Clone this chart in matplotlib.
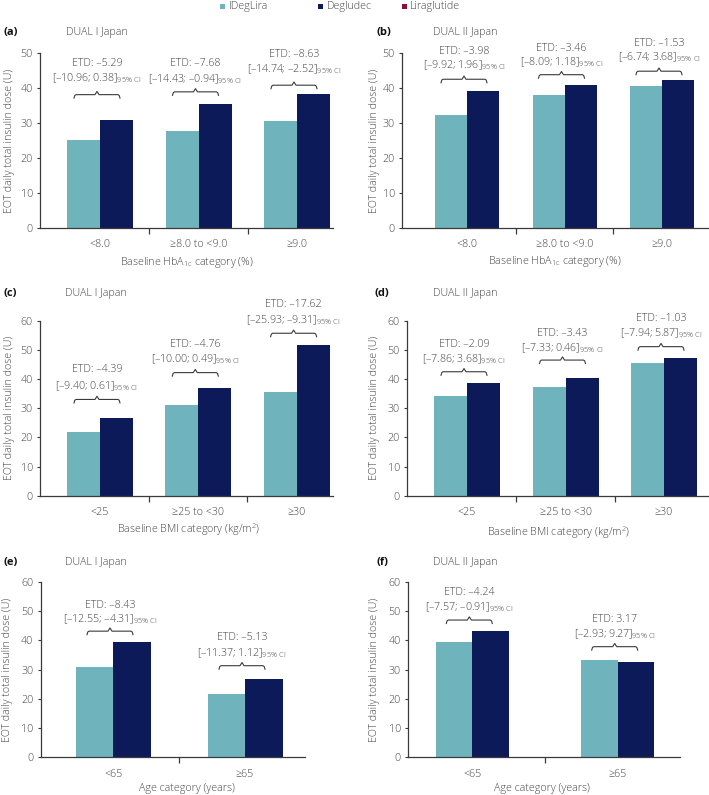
import matplotlib
matplotlib.use('Agg')
import matplotlib.pyplot as plt
from matplotlib.patches import Rectangle
import numpy as np

plt.rcParams['font.family'] = ['Open Sans', 'DejaVu Sans']
plt.rcParams['font.weight'] = 'light'
plt.rcParams['mathtext.fontset'] = 'custom'
plt.rcParams['mathtext.rm'] = 'Open Sans:light'
plt.rcParams['mathtext.it'] = 'Open Sans:italic'
plt.rcParams['mathtext.bf'] = 'Open Sans:bold'

# ---------------- data ----------------
series = ['IDegLira', 'Degludec', 'Liraglutide']

cats_hba1c = ['<8.0', '≥8.0 to <9.0', '≥9.0']
cats_bmi = ['<25', '≥25 to <30', '≥30']
cats_age = ['<65', '≥65']

a_ideg = [25.2, 27.7, 30.6]
a_deg = [30.9, 35.3, 38.4]
a_etd = ['–5.29', '–7.68', '–8.63']
a_ci = ['[–10.96; 0.38]', '[–14.43; –0.94]', '[–14.74; –2.52]']

b_ideg = [32.3, 38.0, 40.7]
b_deg = [39.2, 41.0, 42.3]
b_etd = ['–3.98', '–3.46', '–1.53']
b_ci = ['[–9.92; 1.96]', '[–8.09; 1.18]', '[–6.74; 3.68]']

c_ideg = [21.9, 31.1, 35.7]
c_deg = [26.5, 36.8, 51.6]
c_etd = ['–4.39', '–4.76', '–17.62']
c_ci = ['[–9.40; 0.61]', '[–10.00; 0.49]', '[–25.93; –9.31]']

d_ideg = [34.2, 37.2, 45.4]
d_deg = [38.7, 40.2, 47.1]
d_etd = ['–2.09', '–3.43', '–1.03']
d_ci = ['[–7.86; 3.68]', '[–7.33; 0.46]', '[–7.94; 5.87]']

e_ideg = [30.8, 21.6]
e_deg = [39.3, 26.8]
e_etd = ['–8.43', '–5.13']
e_ci = ['[–12.55; –4.31]', '[–11.37; 1.12]']

f_ideg = [39.3, 33.2]
f_deg = [43.2, 32.5]
f_etd = ['–4.24', '3.17']
f_ci = ['[–7.57; –0.91]', '[–2.93; 9.27]']

# ---------------- style ----------------
W, H = 709, 795
TXT = '#444444'
AXC = '#3a3a3a'
C_IDEG = '#6fb4bc'
C_DEG = '#0d1a5a'
C_LIRA = '#8b1040'
FS = 7.7

fig = plt.figure(figsize=(W / 100, H / 100), dpi=100)


def fx(px):
    return px / W


def fy(py):
    return 1 - py / H


xl_hba1c = 'Baseline HbA$_{\\mathrm{1c}}$ category (%)'
xl_bmi = 'Baseline BMI category (kg/m$^{\\mathrm{2}}$)'
xl_age = 'Age category (years)'

panels = [
    dict(letter='(a)', study='DUAL I Japan', rect=(40, 333, 53, 228), c0=100, sp=98.5,
         ymax=50, cats=cats_hba1c, ideg=a_ideg, deg=a_deg, etd=a_etd, ci=a_ci,
         br=[38.1, 38.9, 40.8], l1=[47.0, 47.0, 49.6], l2=[42.7, 42.4, 45.3],
         xlabel=xl_hba1c, xlpos=(187, 263), ylx=10, lab=(3, 32.5), st=66.5, bw=33),
    dict(letter='(b)', study='DUAL II Japan', rect=(402, 708, 53, 228), c0=467, sp=97.5,
         ymax=50, cats=cats_hba1c, ideg=b_ideg, deg=b_deg, etd=b_etd, ci=b_ci,
         br=[42.5, 43.8, 44.8], l1=[50.3, 51.4, 52.7], l2=[46.5, 47.4, 48.7],
         xlabel=xl_hba1c, xlpos=(555, 262), ylx=375, lab=(376.5, 33), st=433, bw=32),
    dict(letter='(c)', study='DUAL I Japan', rect=(40, 333, 320.7, 495.7), c0=100, sp=98.3,
         ymax=60, cats=cats_bmi, ideg=c_ideg, deg=c_deg, etd=c_etd, ci=c_ci,
         br=[33.0, 42.2, 55.7], l1=[43.1, 51.9, 65.4], l2=[37.6, 46.7, 60.2],
         xlabel=xl_bmi, xlpos=(189, 530), ylx=10, lab=(3, 293.3), st=65, bw=33),
    dict(letter='(d)', study='DUAL II Japan', rect=(407, 708, 320.7, 495.7), c0=467, sp=98.5,
         ymax=60, cats=cats_bmi, ideg=d_ideg, deg=d_deg, etd=d_etd, ci=d_ci,
         br=[42.5, 46.5, 51.1], l1=[51.9, 55.7, 60.8], l2=[46.7, 50.7, 55.7],
         xlabel=xl_bmi, xlpos=(559, 533), ylx=375, lab=(375, 293.3), st=433, bw=33),
    dict(letter='(e)', study='DUAL I Japan', rect=(40.7, 305, 581.7, 757.3), c0=113, sp=132,
         ymax=60, cats=cats_age, ideg=e_ideg, deg=e_deg, etd=e_etd, ci=e_ci,
         br=[43.1, 31.3], l1=[52.0, 40.9], l2=[47.1, 35.7],
         xlabel=xl_age, xlpos=(187, 788), ylx=8, lab=(3, 562.7), st=65, bw=37.5),
    dict(letter='(f)', study='DUAL II Japan', rect=(408, 680, 581.7, 757.3), c0=472.3, sp=145.4,
         ymax=60, cats=cats_age, ideg=f_ideg, deg=f_deg, etd=f_etd, ci=f_ci,
         br=[46.9, 37.8], l1=[56.2, 47.1], l2=[51.2, 42.1],
         xlabel=xl_age, xlpos=(542, 788), ylx=375, lab=(376.5, 562.7), st=432.7, bw=36.5),
]

for p in panels:
    x0, x1, yt, yb = p['rect']
    ax = fig.add_axes([fx(x0), fy(yb), fx(x1 - x0), (yb - yt) / H])
    n = len(p['cats'])
    sp = p['sp']
    xlo = (x0 - p['c0']) / sp
    xhi = (x1 - p['c0']) / sp
    ax.set_xlim(xlo, xhi)
    ax.set_ylim(0, p['ymax'])
    bw = p['bw'] / sp
    xs = np.arange(n)
    ax.bar(xs - bw / 2, p['ideg'], width=bw, color=C_IDEG, linewidth=0)
    ax.bar(xs + bw / 2, p['deg'], width=bw, color=C_DEG, linewidth=0)

    for s in ['top', 'right']:
        ax.spines[s].set_visible(False)
    for s in ['left', 'bottom']:
        ax.spines[s].set_color(AXC)
        ax.spines[s].set_linewidth(0.9)
    ax.set_yticks(np.arange(0, p['ymax'] + 1, 10))
    ax.tick_params(axis='y', length=2.2, width=0.8, pad=3, labelsize=FS,
                   colors=AXC, labelcolor=TXT)
    ax.set_xticks(xs)
    ax.set_xticklabels(p['cats'])
    ax.set_xticks(np.arange(n - 1) + 0.5, minor=True)
    ax.tick_params(axis='x', which='major', length=0, pad=8.2, labelsize=FS, labelcolor=TXT)
    ax.tick_params(axis='x', which='minor', length=4.5, width=0.9, colors=AXC)

    # brackets and ETD annotations
    ypp = p['ymax'] / (yb - yt)  # data units per pixel (y)
    xpp = 1 / sp                  # data units per pixel (x)
    for i in range(n):
        c = i - 3 * xpp
        b = p['br'][i]
        hw = 23 * xpp
        e = 2 * xpp
        xsb = [c - hw, c - hw + e * 0.4, c - hw + e, c - e, c, c + e, c + hw - e, c + hw - e * 0.4, c + hw]
        ysb = [b - 3.5 * ypp, b - 0.8 * ypp, b, b, b + 3.2 * ypp, b, b, b - 0.8 * ypp, b - 3.5 * ypp]
        ax.plot(xsb, ysb, color=AXC, lw=0.8, clip_on=False, solid_joinstyle='round')
        ax.text(c, p['l1'][i], 'ETD: ' + p['etd'][i], ha='center', va='center',
                fontsize=FS, color=TXT, clip_on=False)
        ax.text(c, p['l2'][i], p['ci'][i] + '$_{\\mathrm{95\\%\\ CI}}$', ha='center',
                va='center', fontsize=FS, color=TXT, clip_on=False)

    # labels
    fig.text(fx(p['ylx']), fy((yt + yb) / 2), 'EOT daily total insulin dose (U)',
             rotation=90, ha='center', va='center', fontsize=FS, color=TXT)
    fig.text(fx(p['xlpos'][0]), fy(p['xlpos'][1]), p['xlabel'], ha='center', va='center',
             fontsize=FS, color=TXT)
    fig.text(fx(p['lab'][0]), fy(p['lab'][1]), p['letter'], ha='left', va='center',
             fontsize=8, fontweight='bold', color='#111111')
    fig.text(fx(p['st']), fy(p['lab'][1]), p['study'], ha='left', va='center',
             fontsize=FS, color=TXT)

# legend (figure level)
leg_sq = [220, 317.5, 401.5]
leg_tx = [229, 327, 410]
for col, sx, tx, name in zip([C_IDEG, C_DEG, C_LIRA], leg_sq, leg_tx, series):
    fig.patches.append(Rectangle((fx(sx), fy(8.7)), 5 / W, 5 / H, transform=fig.transFigure,
                                 facecolor=col, edgecolor='none'))
    fig.text(fx(tx), fy(6.4), name, ha='left', va='center', fontsize=FS, color=TXT)

fig.savefig('out.png', dpi=100)
